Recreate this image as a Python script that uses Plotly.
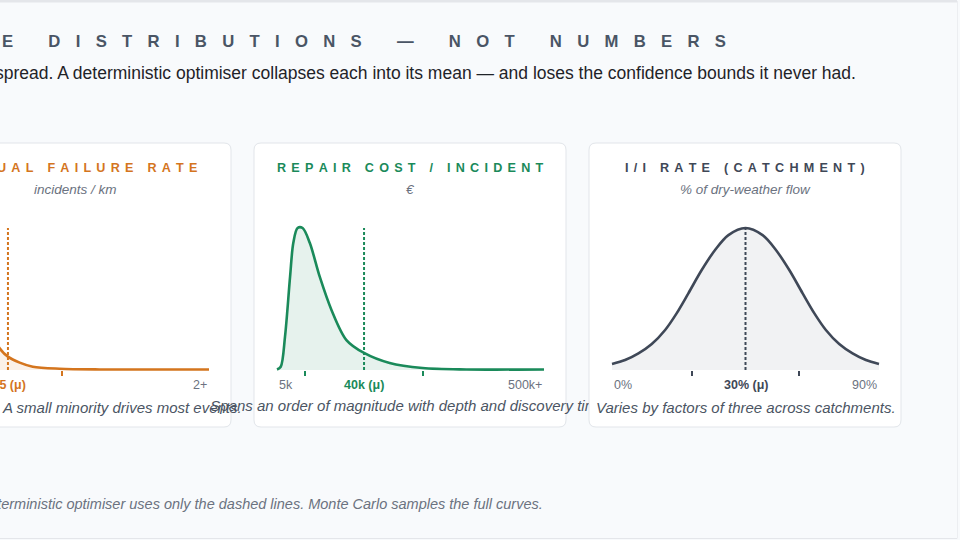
import plotly.graph_objects as go

# ---- data (x = % of plot width, y = % of peak height)
fail_x = [0, 2, 4, 6, 9, 13, 17, 21.6, 24.7, 29.1, 34, 44, 59, 80, 100]
fail_y = [0, 40, 85, 100, 92, 62, 35, 15.3, 9.4, 5.2, 2.3, 0.9, 0.4, 0.4, 0.4]
fail_mean = 24.7
fail_ticks = [45]
fail_labels = ["0", "0.5 (μ)", "2+"]

cost_x = [0, 1.4, 3.0, 4.9, 6.1, 7.7, 9.6, 12.3, 16.0, 20.4, 26.0, 32.6, 42.2, 54.5, 70.9, 100]
cost_y = [0.4, 2.3, 23.5, 65.7, 89.4, 100, 100, 89.4, 65.7, 42.3, 21.1, 12.0, 4.9, 1.4, 0.4, 0.4]
cost_mean = 32.6
cost_ticks = [10.4, 54.5]
cost_labels = ["5k", "40k (μ)", "500k+"]

ii_x = [0, 4.9, 9.9, 14.9, 19.9, 24.2, 28.6, 33.6, 38.6, 43.6, 50,
        56.4, 61.4, 66.4, 71.4, 75.8, 80.1, 85.1, 90.1, 95.1, 100]
ii_y = [4.2, 7.0, 11.7, 18.3, 28.2, 39.9, 54, 70.4, 84.5, 95, 100,
        95, 84.5, 70.4, 54, 39.9, 28.2, 18.3, 11.7, 7.0, 4.2]
ii_mean = 50
ii_ticks = [30, 70]
ii_labels = ["0%", "30% (μ)", "90%"]

card_titles = ["ANNUAL FAILURE RATE", "REPAIR COST / INCIDENT", "I/I RATE (CATCHMENT)"]
card_units = ["incidents / km", "€", "% of dry-weather flow"]
card_captions = ["A small minority drives most events.",
                 "Spans an order of magnitude with depth and discovery time.",
                 "Varies by factors of three across catchments."]

W, H = 960, 540
FONT = "Liberation Sans"
BG = "#f8fafc"
ORANGE, GREEN, SLATE = "#d4751e", "#1a8a5a", "#3f4857"
FILLS = ["rgba(212,117,30,0.10)", "rgba(26,138,90,0.11)", "rgba(63,72,87,0.07)"]
COLORS = [ORANGE, GREEN, SLATE]


def px(x):
    return x / W


def py(y):
    return 1 - y / H


def spaced(text, sep):
    return sep.join(text)


fig = go.Figure()

cards = [
    (fail_x, fail_y, fail_mean, fail_ticks, fail_labels),
    (cost_x, cost_y, cost_mean, cost_ticks, cost_labels),
    (ii_x, ii_y, ii_mean, ii_ticks, ii_labels),
]
card_left = [-81, 254, 589]
card_w, card_top, card_bot = 312, 143, 427
base_px, top_px = 370, 228
unit = (base_px - top_px) / 100.0

shapes = []
annotations = []

for i, (xs, ys, mean, ticks, labels) in enumerate(cards):
    n = "" if i == 0 else str(i + 1)
    cl = card_left[i]
    cr = cl + card_w
    pl, pr = cl + 23, cl + 23 + 267
    s = (pr - pl) / 100.0
    dl = max(0, pl - 4)
    dr = pr + 4
    xr = [(dl - pl) / s, (dr - pl) / s]
    ytop, ybot = top_px - 8, base_px + 5
    yr = [-(ybot - base_px) / unit, 100 + (top_px - ytop) / unit]

    # card background
    r = 7
    rx, ry = r / W, r / H
    x0, x1, y0, y1 = px(cl), px(cr), py(card_top), py(card_bot)
    path = (f"M {x0+rx},{y0} L {x1-rx},{y0} Q {x1},{y0} {x1},{y0-ry} "
            f"L {x1},{y1+ry} Q {x1},{y1} {x1-rx},{y1} L {x0+rx},{y1} "
            f"Q {x0},{y1} {x0},{y1+ry} L {x0},{y0-ry} Q {x0},{y0} {x0+rx},{y0} Z")
    shapes.append(dict(type="path", path=path, xref="paper", yref="paper",
                       fillcolor="white", line=dict(color="#e2e5ea", width=1),
                       layer="below"))

    c = COLORS[i]
    fig.add_trace(go.Scatter(x=xs, y=ys, mode="lines", fill="tozeroy",
                             fillcolor=FILLS[i],
                             line=dict(color=c, width=2.6, shape="spline", smoothing=0.9),
                             xaxis="x" + n, yaxis="y" + n, hoverinfo="skip"))
    fig.add_trace(go.Scatter(x=[mean, mean], y=[0, 100], mode="lines",
                             line=dict(color=c, width=2, dash="3px,2px"),
                             xaxis="x" + n, yaxis="y" + n, hoverinfo="skip"))

    fig.layout["xaxis" + n] = dict(domain=[px(dl), px(dr)], range=xr, anchor="free",
                                   position=py(base_px), showgrid=False, zeroline=False,
                                   showline=False, ticks="outside", ticklen=5, tickwidth=1.5,
                                   tickcolor=c, tickvals=ticks, showticklabels=False,
                                   fixedrange=True)
    fig.layout["yaxis" + n] = dict(domain=[py(ybot), py(ytop)], range=yr, visible=False,
                                   anchor="x" + n, fixedrange=True)

    cx = px(cl + card_w / 2)
    annotations.append(dict(text="<b>" + spaced(card_titles[i], "\u2005\u2006") + "</b>",
                            x=cx, y=py(168), font=dict(size=12.6, color=c)))
    annotations.append(dict(text="<i>" + card_units[i] + "</i>", x=cx, y=py(189),
                            font=dict(size=13.5, color="#6b7280")))

    # tick labels on the data axis: low end, mean, high end
    anchors = ["left", "center", "right"]
    for j, t in enumerate(labels):
        mid = j == 1
        annotations.append(dict(text=("<b>" + t + "</b>") if mid else t,
                                x=[0, mean, 100][j], xref="x" + n, y=py(385),
                                xanchor=anchors[j],
                                font=dict(size=12.5, color=c if mid else "#6b7280")))

# captions
annotations.append(dict(text="<i>" + card_captions[0] + "</i>", x=px(0), y=py(407),
                        xanchor="left", font=dict(size=15, color="#4b5563")))
annotations.append(dict(text="<i>" + card_captions[2] + "</i>", x=px(745.5), y=py(407),
                        font=dict(size=15, color="#4b5563")))
# middle caption overflows and is hidden under the third card
fig.add_trace(go.Scatter(x=[410], y=[407], mode="text", text=["<i>" + card_captions[1] + "</i>"],
                         textfont=dict(size=15, color="#4b5563", family=FONT),
                         textposition="middle center", cliponaxis=True,
                         xaxis="x4", yaxis="y4", hoverinfo="skip"))
fig.layout["xaxis4"] = dict(domain=[0, px(589)], range=[0, 589], visible=False, fixedrange=True)
fig.layout["yaxis4"] = dict(domain=[py(422), py(392)], range=[422, 392], visible=False,
                            anchor="x4", fixedrange=True)

# headline, subtitle, footnote
annotations.append(dict(text="<b>" + spaced("E DISTRIBUTIONS — NOT NUMBERS", "\u2002\u2005\u2006") + "</b>",
                        x=px(0), y=py(42), xanchor="left",
                        font=dict(size=16.7, color="#4a5565")))
annotations.append(dict(text="spread. A deterministic optimiser collapses each into its mean — "
                             "and loses the confidence bounds it never had.",
                        x=px(-7), y=py(73), xanchor="left",
                        font=dict(size=17.5, color="#1f2328")))
annotations.append(dict(text="<i>The deterministic optimiser uses only the dashed lines. "
                             "Monte Carlo samples the full curves.</i>",
                        x=px(545), y=py(504), xanchor="right",
                        font=dict(size=14.5, color="#6b7280")))

for a in annotations:
    a.setdefault("xref", "paper")
    a.setdefault("yref", "paper")
    a.setdefault("xanchor", "center")
    a.setdefault("showarrow", False)
    a.setdefault("yanchor", "middle")

# frame edges
shapes.append(dict(type="line", xref="paper", yref="paper", x0=0, x1=px(957), y0=py(1), y1=py(1),
                   line=dict(color="#e4e6ea", width=3)))
shapes.append(dict(type="line", xref="paper", yref="paper", x0=0, x1=px(957), y0=py(538.5), y1=py(538.5),
                   line=dict(color="#e4e6ea", width=1)))
shapes.append(dict(type="line", xref="paper", yref="paper", x0=px(957.5), x1=px(957.5), y0=py(1), y1=py(538.5),
                   line=dict(color="#eceef1", width=1)))

fig.update_layout(width=W, height=H, margin=dict(l=0, r=0, t=0, b=0),
                  paper_bgcolor=BG, plot_bgcolor="rgba(0,0,0,0)", showlegend=False,
                  font=dict(family=FONT), shapes=shapes, annotations=annotations)

fig.write_html("out.html", config={"displayModeBar": False},
               post_script="document.body.style.margin='0';")
